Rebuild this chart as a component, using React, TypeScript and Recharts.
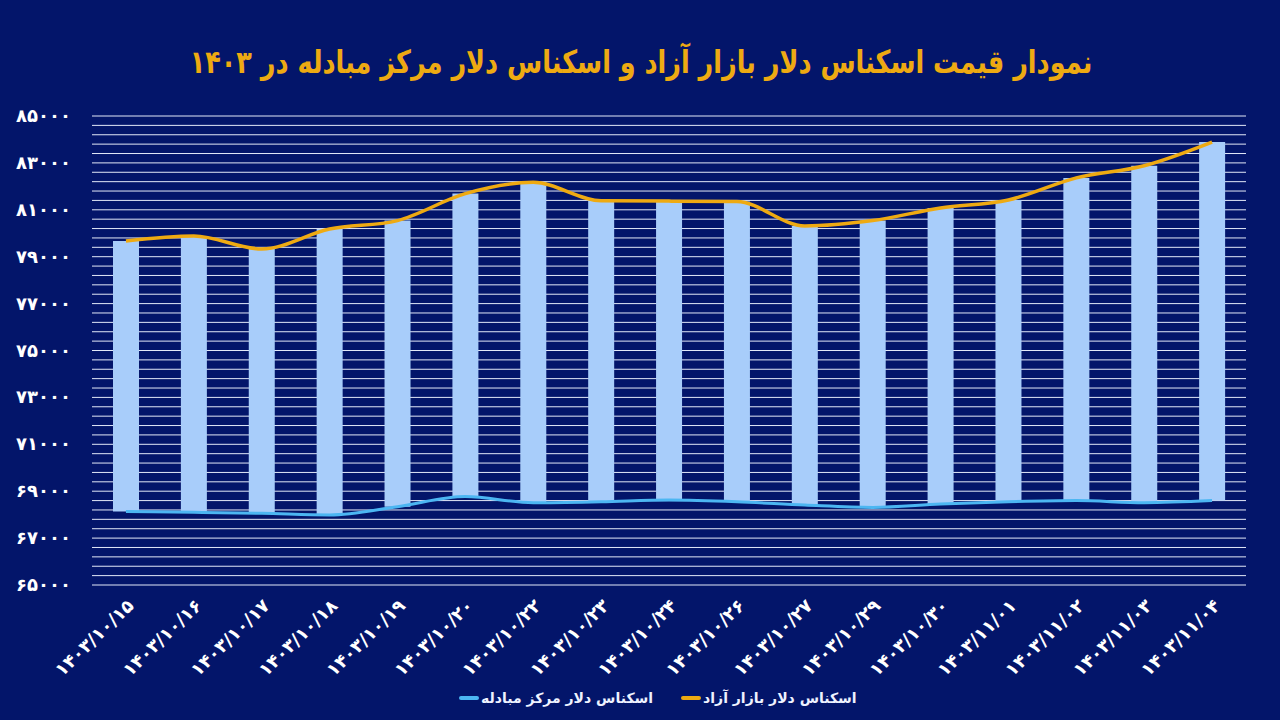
import React from 'react';
import { Bar, CartesianGrid, ComposedChart, Line, XAxis, YAxis } from 'recharts';

const categories = [
  '۱۴۰۳/۱۰/۱۵', '۱۴۰۳/۱۰/۱۶', '۱۴۰۳/۱۰/۱۷', '۱۴۰۳/۱۰/۱۸', '۱۴۰۳/۱۰/۱۹', '۱۴۰۳/۱۰/۲۰',
  '۱۴۰۳/۱۰/۲۲', '۱۴۰۳/۱۰/۲۳', '۱۴۰۳/۱۰/۲۴', '۱۴۰۳/۱۰/۲۶', '۱۴۰۳/۱۰/۲۷', '۱۴۰۳/۱۰/۲۹',
  '۱۴۰۳/۱۰/۳۰', '۱۴۰۳/۱۱/۰۱', '۱۴۰۳/۱۱/۰۲', '۱۴۰۳/۱۱/۰۳', '۱۴۰۳/۱۱/۰۴',
];

// free market banknote
const freeMarket = [
  79670, 79880, 79330, 80180, 80540, 81690, 82170, 81390, 81370,
  81350, 80310, 80540, 81080, 81420, 82360, 82880, 83890,
];

// exchange center banknote
const exchangeCenter = [
  68130, 68100, 68060, 67990, 68340, 68770, 68510, 68550, 68620,
  68550, 68410, 68310, 68450, 68550, 68600, 68510, 68600,
];

const yTicks = [65000, 67000, 69000, 71000, 73000, 75000, 77000, 79000, 81000, 83000, 85000];
// thin grid every 400
const gridValues: number[] = [];
for (let v = 65000; v <= 85000; v += 400) gridValues.push(v);

const title = 'نمودار قیمت اسکناس دلار بازار آزاد و اسکناس دلار مرکز مبادله در ۱۴۰۳';
const freeName = 'اسکناس دلار بازار آزاد';
const exchangeName = 'اسکناس دلار مرکز مبادله';

const BG = '#03156a';
const GOLD = '#eeaa12';
const BLUE_LINE = '#4cb6f2';
const BAR = '#a8cdfa';
const FONT = '"DejaVu Sans", sans-serif';

const faDigits = (s: string) => s.replace(/\d/g, d => '۰۱۲۳۴۵۶۷۸۹'[Number(d)]);

const data = categories.map((name, i) => ({
  name,
  free: freeMarket[i],
  exchange: exchangeCenter[i],
  range: [exchangeCenter[i], freeMarket[i]],
}));

function XTick(props: any) {
  const { x, y, payload } = props;
  return (
    <g transform={`translate(${x + 9},${y + 14})`}>
      <text
        transform="rotate(-44)"
        textAnchor="end"
        fill="#ffffff"
        fontSize={18}
        fontWeight={700}
        fontFamily={FONT}
      >
        {payload.value}
      </text>
    </g>
  );
}

function YTick(props: any) {
  const { y, payload } = props;
  return (
    <text
      x={71}
      y={y}
      dy={6}
      textAnchor="end"
      fill="#ffffff"
      fontSize={18}
      fontWeight={700}
      fontFamily={FONT}
    >
      {faDigits(String(payload.value))}
    </text>
  );
}

export default function App() {
  return (
    <div style={{ position: 'absolute', left: 0, top: 0, width: 1280, height: 720, background: BG, overflow: 'hidden' }}>
      <div
        dir="rtl"
        style={{
          position: 'absolute',
          left: 0,
          top: 40,
          width: 1282,
          textAlign: 'center',
          color: GOLD,
          fontFamily: FONT,
          fontSize: 25.5,
          fontWeight: 700,
          lineHeight: '44px',
          whiteSpace: 'nowrap',
          transform: 'scaleY(1.25)',
        }}
      >
        {title}
      </div>
      <ComposedChart
        width={1280}
        height={720}
        data={data}
        margin={{ top: 116, right: 34, left: 0, bottom: 0 }}
        barCategoryGap={0}
      >
        <CartesianGrid vertical={false} stroke="#e3e9f8" strokeWidth={1} yAxisId="grid" />
        <XAxis
          dataKey="name"
          axisLine={false}
          tickLine={false}
          interval={0}
          height={135}
          tick={<XTick />}
        />
        <YAxis
          type="number"
          domain={[65000, 85000]}
          ticks={yTicks}
          interval={0}
          width={92}
          axisLine={false}
          tickLine={false}
          tick={<YTick />}
          allowDataOverflow
        />
        <YAxis
          yAxisId="grid"
          type="number"
          domain={[65000, 85000]}
          ticks={gridValues}
          interval={0}
          hide
          allowDataOverflow
        />
        <Bar dataKey="range" fill={BAR} barSize={26} isAnimationActive={false} />
        <Line
          type="monotone"
          dataKey="exchange"
          stroke={BLUE_LINE}
          strokeWidth={3}
          dot={false}
          isAnimationActive={false}
        />
        <Line
          type="monotone"
          dataKey="free"
          stroke={GOLD}
          strokeWidth={3.5}
          dot={false}
          isAnimationActive={false}
        />
      </ComposedChart>
      <div
        style={{
          position: 'absolute',
          left: 459,
          top: 690,
          display: 'flex',
          gap: 28,
          fontFamily: FONT,
          fontSize: 14,
          fontWeight: 700,
          color: '#eef2ff',
        }}
      >
        {[
          { name: exchangeName, color: BLUE_LINE },
          { name: freeName, color: GOLD },
        ].map(item => (
          <div key={item.name} style={{ display: 'flex', alignItems: 'center' }}>
            <span style={{ width: 20, height: 4, borderRadius: 2, background: item.color, marginRight: 2 }} />
            <span>{item.name}</span>
          </div>
        ))}
      </div>
    </div>
  );
}
